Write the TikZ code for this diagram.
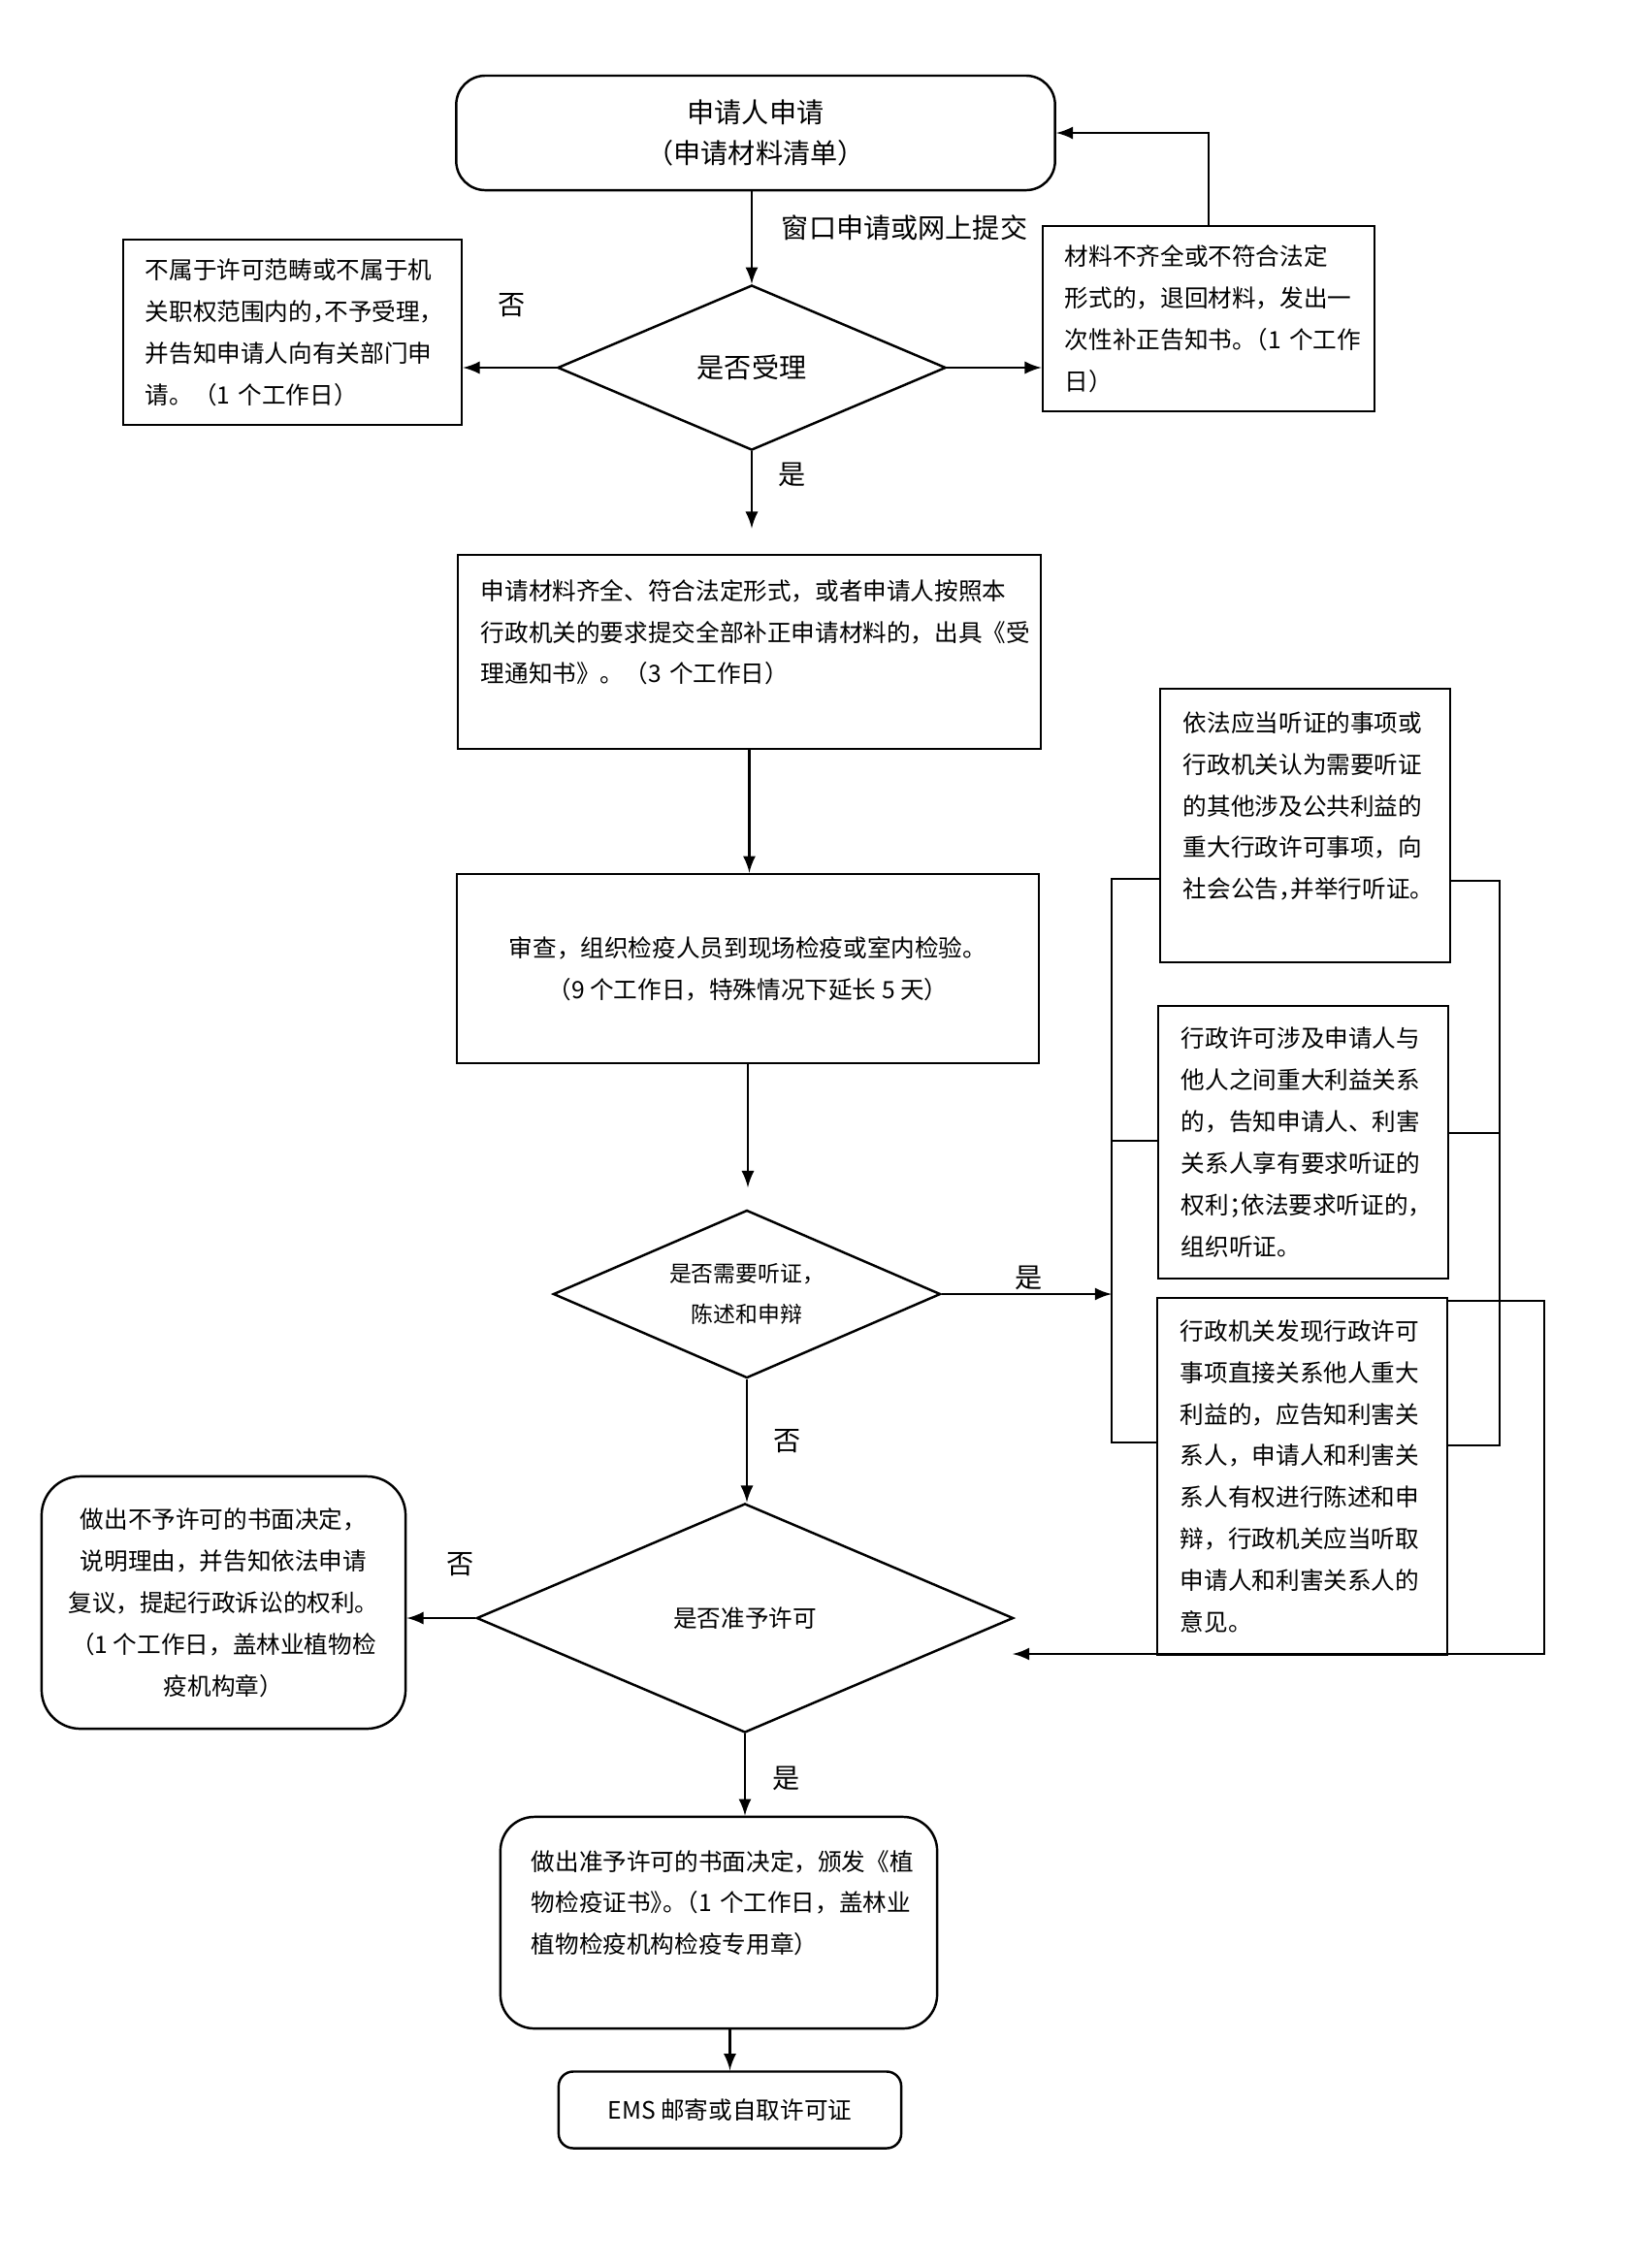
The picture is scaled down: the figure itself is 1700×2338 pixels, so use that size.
\documentclass[tikz,border=0pt]{standalone}
\usepackage{fontspec}
\setmainfont{Noto Sans CJK SC}
\newfontfamily\halfpunct[RawFeature=+halt]{Noto Sans CJK SC}
\newcommand{\hw}[1]{{\halfpunct #1}}
\usetikzlibrary{shapes.geometric}

\begin{document}
\begin{tikzpicture}[x=0.01cm,y=-0.01cm,line width=0.7pt,
        testo/.style={font={\fontsize{7pt}{12.2pt}\selectfont}},
        grande/.style={font={\fontsize{8pt}{12pt}\selectfont}},
        box/.style={draw,rectangle,inner sep=0pt,testo},
        rbox/.style={box,rounded corners=#1},rbox/.default=0.3cm,
        rombo/.style={draw,diamond,aspect=2.3,inner sep=0pt,testo}]
        \useasboundingbox (0,0) rectangle (1700,2338);
        %domanda
            \node[rbox=0.3cm,grande,minimum width=6.17cm,minimum height=1.18cm,align=center] (start) at (779,137) {申请人申请\\（申请材料清单）};
            \node[grande,anchor=west] (via) at (793,235) {窗口申请或网上提交};
        %rombo accettazione
            \node[rombo,grande,minimum width=4cm,minimum height=1.7cm] (d1) at (775,379) {是否受理};
            \node[box,minimum width=3.49cm,minimum height=1.91cm,text width=3.03cm,align=left] (no1) at (301.5,342.5) {不属于许可范畴或不属于机\\关职权范围内的\hw{，}不予受理\hw{，}\\并告知申请人向有关部门申\\请。（1~个工作日）};
            \node[box,minimum width=3.42cm,minimum height=1.91cm,text width=2.96cm,align=left] (back) at (1246,328.5) {材料不齐全或不符合法定\\形式的，退回材料，发出一\\次性补正告知书\hw{。}（1~个工作\\日）};
            \node[grande] (n1) at (528,315) {否};
            \node[grande] (s1) at (817,489) {是};
        %accettazione e verifica
            \node[box,minimum width=6.01cm,minimum height=2cm,text width=5.53cm,align=left] (acc) at (772.5,672) {申请材料齐全、符合法定形式，或者申请人按照本\\行政机关的要求提交全部补正申请材料的，出具《受\\理通知书》。（3~个工作日）\\\mbox{}};
            \node[box,minimum width=6cm,minimum height=1.95cm,align=center] (chk) at (771,998.5) {审查，组织检疫人员到现场检疫或室内检验。\\（9~个工作日，特殊情况下延长~5~天）};
        %rombo udienza
            \node[rombo,font={\fontsize{6.5pt}{12pt}\selectfont},minimum width=3.99cm,minimum height=1.73cm,align=center] (d2) at (770,1334) {是否需要听证，\\陈述和申辩};
            \node[grande] (s2) at (1061,1317) {是};
            \node[grande] (n2) at (812,1486) {否};
        %riquadri udienza
            \node[box,minimum width=2.99cm,minimum height=2.82cm,text width=2.51cm,align=left] (hA) at (1345.5,851) {依法应当听证的事项或\\行政机关认为需要听证\\的其他涉及公共利益的\\重大行政许可事项，向\\社会公告\hw{，}并举行听证。\\\mbox{}};
            \node[box,minimum width=2.99cm,minimum height=2.81cm,text width=2.51cm,align=left] (hB) at (1343.5,1177.5) {行政许可涉及申请人与\\他人之间重大利益关系\\的，告知申请人、利害\\关系人享有要求听证的\\权利\hw{；}依法要求听证的\hw{，}\\组织听证。};
            \node[box,minimum width=2.99cm,minimum height=3.68cm,text width=2.51cm,align=left] (hC) at (1342.5,1522) {行政机关发现行政许可\\事项直接关系他人重大\\利益的，应告知利害关\\系人，申请人和利害关\\系人有权进行陈述和申\\辩，行政机关应当听取\\申请人和利害关系人的\\意见。};
        %rombo decisione
            \node[rombo,minimum width=5.53cm,minimum height=2.36cm] (d3) at (768,1668) {是否准予许可};
            \node[rbox=0.4cm,minimum width=3.75cm,minimum height=2.6cm,align=center] (deny) at (230.5,1652) {做出不予许可的书面决定，\\说明理由，并告知依法申请\\复议，提起行政诉讼的权利。\\（1~个工作日，盖林业植物检\\疫机构章）};
            \node[grande] (n3) at (475,1613) {否};
            \node[grande] (s3) at (811,1833) {是};
            \node[rbox=0.35cm,minimum width=4.5cm,minimum height=2.18cm,text width=3.86cm,align=left] (grant) at (741,1982) {做出准予许可的书面决定，颁发《植\\物检疫证书\hw{》。}（1~个工作日，盖林业\\植物检疫机构检疫专用章）\\\mbox{}};
            \node[rbox=0.15cm,minimum width=3.53cm,minimum height=0.79cm] (ems) at (752.5,2175) {EMS 邮寄或自取许可证};
        %frecce
            \draw[-latex] (d1.north |- start.south) -- (d1.north);
            \draw[-latex] (d1.west) -- (d1.west -| no1.east);
            \draw[-latex] (d1.east) -- (d1.east -| back.west);
            \draw[-latex] (back.north) |- (start.east);
            \draw[-latex,shorten >=0.26cm] (d1.south) -- (d1.south |- acc.north);
            \draw[-latex] (acc.south) -- (acc.south |- chk.north);
            \draw[-latex,shorten >=0.22cm] (chk.south) -- (chk.south |- d2.north);
            \draw[-latex] (d2.east) -- (d2.east -| 1146,0);
            \draw[-latex] (d2.south) -- (d2.south |- d3.north);
            \draw[-latex] (d3.west) -- (d3.west -| deny.east);
            \draw[-latex] (d3.south) -- (d3.south |- grant.north);
            \draw[-latex] (ems.north |- grant.south) -- (ems.north);
        %parentesi udienza
            \draw (hA.west |- 0,906) -| (1146,1487) -- (hC.west |- 0,1487);
            \draw (1146,1176) -- (hB.west |- 0,1176);
            \draw (hA.east |- 0,908) -| (1546,1490) -- (hC.east |- 0,1490);
            \draw (hB.east |- 0,1168) -- (1546,1168);
            \coordinate (d3in) at (1044,1705);
            \draw[-latex] (hC.east |- 0,1341) -| (1592,1705) -- (d3in);
\end{tikzpicture}
\end{document}
